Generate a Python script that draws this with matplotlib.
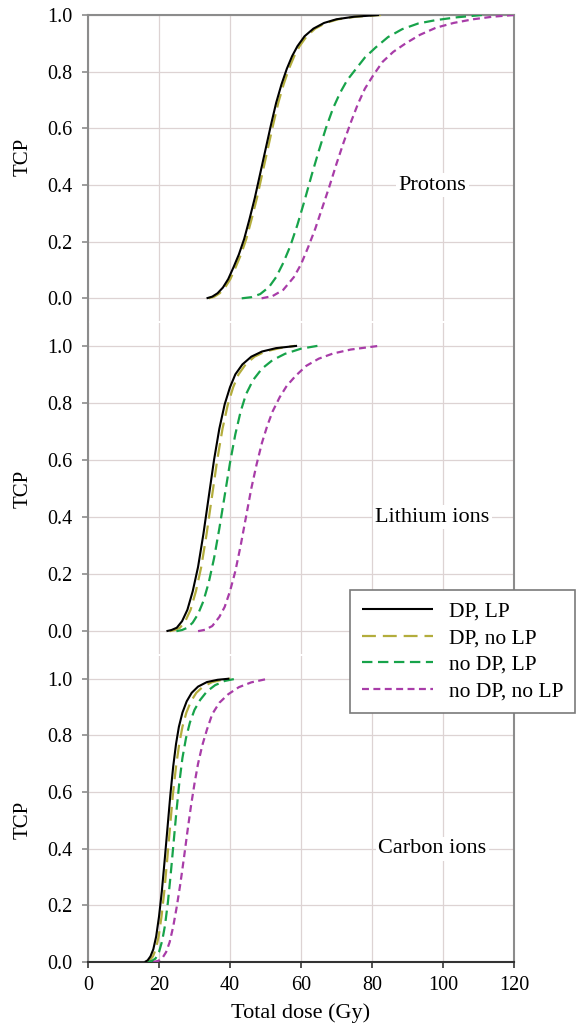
import numpy as np
import matplotlib
matplotlib.use("Agg")
import matplotlib.pyplot as plt

# --- 1. DONNEES ---
# Protons
p_dp_lp_x = [33.4, 35.0, 36.5, 38.0, 39.5, 41.0, 42.5, 44.0, 45.5, 47.0, 48.5, 50.0, 51.5, 53.0, 54.5, 56.0,
             57.5, 59.0, 61.0, 63.5, 66.5, 70.0, 75.0, 82.0]
p_dp_lp_y = [0.0, 0.006, 0.018, 0.038, 0.068, 0.11, 0.155, 0.21, 0.28, 0.355, 0.44, 0.525, 0.61, 0.69, 0.755, 0.81,
             0.855, 0.89, 0.925, 0.952, 0.972, 0.985, 0.994, 1.0]
p_dp_nolp_x = [34.0, 35.6, 37.1, 38.6, 40.1, 41.6, 43.1, 44.6, 46.1, 47.6, 49.1, 50.6, 52.1, 53.6, 55.1, 56.6,
               58.1, 59.6, 61.6, 64.0, 67.0, 70.5, 75.5, 82.5]
p_dp_nolp_y = p_dp_lp_y
p_nodp_lp_x = [43.3, 46.0, 48.5, 51.0, 53.0, 55.0, 57.0, 59.0, 61.0, 63.0, 65.0, 67.0, 69.0, 71.0, 73.0, 75.5,
               78.0, 81.0, 84.5, 88.5, 93.0, 98.0, 104.0, 111.0]
p_nodp_lp_y = [0.0, 0.004, 0.015, 0.04, 0.075, 0.125, 0.185, 0.26, 0.345, 0.435, 0.52, 0.6, 0.67, 0.725, 0.77, 0.81,
               0.85, 0.885, 0.922, 0.95, 0.97, 0.982, 0.992, 1.0]
p_nodp_nolp_x = [48.9, 52.0, 55.0, 58.0, 60.0, 62.0, 64.0, 66.0, 68.0, 70.0, 72.0, 74.0, 76.0, 78.0, 80.5, 83.0,
                 86.0, 89.5, 93.5, 98.0, 103.0, 108.5, 114.0, 120.0]
p_nodp_nolp_y = [0.0, 0.008, 0.03, 0.075, 0.12, 0.18, 0.245, 0.32, 0.395, 0.475, 0.55, 0.62, 0.685, 0.74, 0.79, 0.835,
                 0.87, 0.9, 0.93, 0.955, 0.972, 0.985, 0.994, 1.0]

# Ions lithium
li_dp_lp_x = [22.1, 23.5, 25.0, 26.5, 28.0, 29.5, 31.0, 32.5, 34.0, 35.5, 37.0, 38.5, 40.0, 41.5, 43.5, 46.0,
              49.0, 53.0, 58.9]
li_dp_lp_y = [0.0, 0.004, 0.012, 0.035, 0.075, 0.14, 0.225, 0.34, 0.47, 0.6, 0.71, 0.795, 0.855, 0.9, 0.935, 0.962,
              0.98, 0.992, 1.0]
li_dp_nolp_x = [23.0, 24.4, 25.9, 27.4, 28.9, 30.4, 31.9, 33.4, 34.9, 36.4, 37.9, 39.4, 40.9, 42.4, 44.4, 46.9,
                49.9, 54.0, 58.4]
li_dp_nolp_y = li_dp_lp_y
li_nodp_lp_x = [24.9, 26.5, 28.0, 29.5, 31.0, 32.5, 34.0, 35.5, 37.0, 38.5, 40.0, 41.5, 43.0, 44.5, 46.5, 49.0,
                52.0, 55.5, 60.0, 64.7]
li_nodp_lp_y = [0.0, 0.004, 0.012, 0.03, 0.06, 0.105, 0.17, 0.255, 0.36, 0.475, 0.59, 0.69, 0.77, 0.83, 0.88, 0.92,
                0.95, 0.972, 0.99, 1.0]
li_nodp_nolp_x = [31.0, 33.0, 35.0, 37.0, 38.5, 40.0, 41.5, 43.0, 44.5, 46.0, 47.5, 49.0, 50.5, 52.0, 54.0, 56.0,
                  58.5, 61.5, 65.0, 69.0, 74.0, 82.0]
li_nodp_nolp_y = [0.0, 0.005, 0.018, 0.05, 0.085, 0.14, 0.21, 0.3, 0.4, 0.5, 0.585, 0.66, 0.72, 0.77, 0.82, 0.86,
                  0.895, 0.93, 0.955, 0.973, 0.987, 1.0]

# Ions carbone
c_dp_lp_x = [16.0, 16.8, 17.6, 18.4, 19.2, 20.0, 20.8, 21.6, 22.4, 23.2, 24.0, 24.8, 25.6, 26.6, 27.8, 29.2,
             31.0, 33.5, 36.5, 39.8]
c_dp_nolp_x = [16.5, 17.4, 18.3, 19.1, 19.9, 20.7, 21.5, 22.3, 23.1, 23.9, 24.8, 25.7, 26.6, 27.7, 29.0, 30.5,
               32.4, 35.0, 37.8, 40.1]
c_dp_y = [0.0, 0.006, 0.02, 0.045, 0.09, 0.16, 0.25, 0.36, 0.475, 0.59, 0.69, 0.77, 0.83, 0.88, 0.92, 0.95,
          0.972, 0.988, 0.996, 1.0]
c_nodp_lp_x = [16.8, 18.0, 19.0, 20.0, 20.9, 21.7, 22.5, 23.3, 24.1, 24.9, 25.7, 26.6, 27.6, 28.7, 30.0, 31.6,
               33.5, 35.8, 38.5, 41.7]
c_nodp_lp_y = [0.0, 0.004, 0.012, 0.035, 0.075, 0.13, 0.21, 0.31, 0.42, 0.53, 0.63, 0.72, 0.79, 0.845, 0.89, 0.925,
               0.955, 0.977, 0.992, 1.0]
c_nodp_nolp_x = [18.4, 19.8, 21.0, 22.0, 23.0, 24.0, 25.0, 26.0, 27.0, 28.0, 29.0, 30.0, 31.0, 32.2, 33.5, 35.0,
                 37.0, 39.5, 42.5, 46.0, 50.8]
c_nodp_nolp_y = [0.0, 0.004, 0.015, 0.035, 0.07, 0.125, 0.195, 0.275, 0.365, 0.46, 0.55, 0.63, 0.7, 0.765, 0.82,
                 0.875, 0.915, 0.945, 0.97, 0.987, 1.0]

labels = ["DP, LP", "DP, no LP", "no DP, LP", "no DP, no LP"]
panel_names = ["Protons", "Lithium ions", "Carbon ions"]
x_ticks = [0, 20, 40, 60, 80, 100, 120]
y_ticks = [0.0, 0.2, 0.4, 0.6, 0.8, 1.0]

panels = [
    [(p_dp_lp_x, p_dp_lp_y), (p_dp_nolp_x, p_dp_nolp_y), (p_nodp_lp_x, p_nodp_lp_y), (p_nodp_nolp_x, p_nodp_nolp_y)],
    [(li_dp_lp_x, li_dp_lp_y), (li_dp_nolp_x, li_dp_nolp_y), (li_nodp_lp_x, li_nodp_lp_y), (li_nodp_nolp_x, li_nodp_nolp_y)],
    [(c_dp_lp_x, c_dp_y), (c_dp_nolp_x, c_dp_y), (c_nodp_lp_x, c_nodp_lp_y), (c_nodp_nolp_x, c_nodp_nolp_y)],
]

# --- 2. STYLE ---
plt.rcParams['font.family'] = ['Liberation Serif', 'DejaVu Serif']
plt.rcParams['lines.scale_dashes'] = False

colors = ['#000000', '#b3ad3c', '#17a34a', '#a83ca8']
dashes = [None, (10, 5), (7.5, 4), (5, 3.2)]
widths = [1.5, 1.6, 1.6, 1.6]
zorders = [5, 3, 3, 3]
grid_col = '#ddd3d3'
spine_col = '#8c8c8c'

W, H = 582, 1031
fig = plt.figure(figsize=(W / 100, H / 100), dpi=100)

# positions en pixels: (haut, bas) de chaque panneau
left_px, right_px = 88, 514
rows_px = [(15, 321), (323, 654), (656, 962)]
ylims = [(-0.08, 1.0), (-0.08, 1.08), (0.0, 1.08)]

axes = []
lines = []
for i, ((top, bot), data) in enumerate(zip(rows_px, panels)):
    ax = fig.add_axes([left_px / W, 1 - bot / H, (right_px - left_px) / W, (bot - top) / H])
    axes.append(ax)
    for j, (xs, ys) in enumerate(data):
        ln, = ax.plot(xs, ys, color=colors[j], lw=widths[j], zorder=zorders[j],
                      solid_capstyle='butt', dash_capstyle='butt', solid_joinstyle='round')
        if dashes[j] is not None:
            ln.set_dashes(dashes[j])
        if i == 0:
            lines.append(ln)

    ax.set_xlim(0, 120)
    ax.set_ylim(*ylims[i])
    ax.set_xticks(x_ticks)
    ax.set_yticks(y_ticks)
    ax.set_yticklabels([f"{v:.1f}" for v in y_ticks], fontsize=14.5)
    ax.grid(True, color=grid_col, lw=0.9, zorder=0)
    ax.set_axisbelow(True)
    ax.tick_params(axis='y', direction='out', length=4, width=1.2, color=spine_col, pad=7)

    for s in ['left', 'right', 'top', 'bottom']:
        ax.spines[s].set_color(spine_col)
        ax.spines[s].set_linewidth(1.5)
    if i != 0:
        ax.spines['top'].set_visible(False)
    if i != 2:
        ax.spines['bottom'].set_visible(False)
        ax.tick_params(axis='x', length=0, labelbottom=False)
    else:
        ax.spines['bottom'].set_color('#333333')
        ax.tick_params(axis='x', direction='out', length=4, width=1.2, color='#333333', pad=6, labelsize=14.5)
        ax.set_xticklabels([str(v) for v in x_ticks])
        ax.set_xlabel("Total dose (Gy)", fontsize=16, labelpad=6)

    ax.set_ylabel("TCP", fontsize=15)
    lo, hi = ylims[i]
    ax.yaxis.set_label_coords(-0.13, (0.5 - lo) / (hi - lo))

    ax.text(97, 0.4, panel_names[i], fontsize=16, ha='center', va='center', zorder=4,
            bbox=dict(facecolor='white', edgecolor='none', pad=2))

# --- 3. LEGENDE ---
leg = fig.legend(lines, labels, loc='upper left', bbox_to_anchor=(350 / W, 1 - 590 / H),
                 borderaxespad=0, fontsize=15.5, handlelength=3.3, handletextpad=0.75,
                 labelspacing=0.3, borderpad=0.55, fancybox=False, framealpha=1)
leg.get_frame().set_edgecolor('#7a7a7a')
leg.get_frame().set_linewidth(1.2)

plt.savefig("out.png", dpi=100)
